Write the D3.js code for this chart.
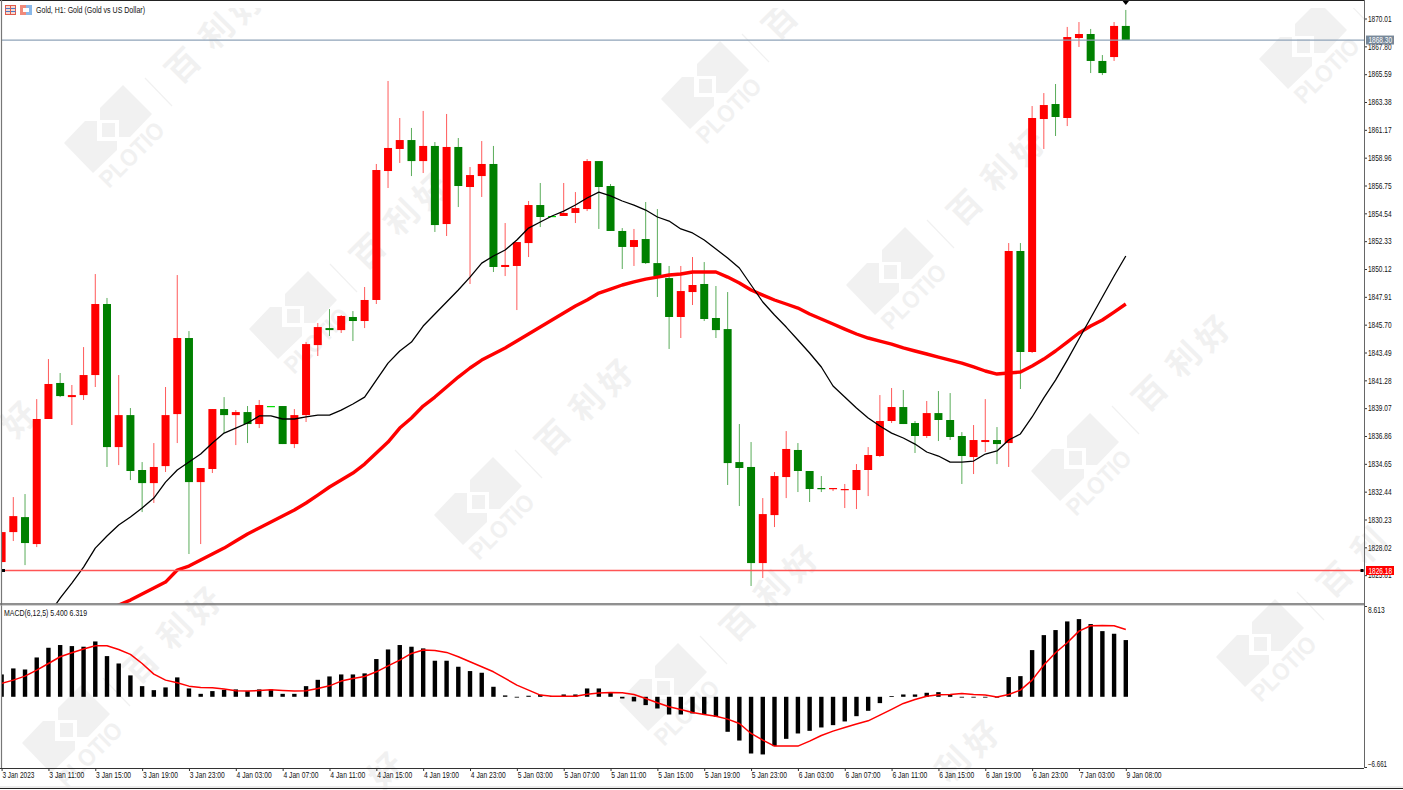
<!DOCTYPE html>
<html><head><meta charset="utf-8">
<script src="https://cdnjs.cloudflare.com/ajax/libs/d3/7.8.5/d3.min.js"></script>
<style>
html,body{margin:0;padding:0;background:#fff;overflow:hidden}
svg{display:block}
text{font-family:"Liberation Sans",sans-serif;font-size:8.4px;fill:#111}
.wm text{font-family:"Noto Sans CJK SC",sans-serif;fill:#f1f1f1;stroke:none}
</style></head><body>
<svg id="c" width="1403" height="790"></svg>
<script>
const opens=[1826.85,1829.23,1830.42,1828.28,1838.21,1841.07,1839.95,1840.11,1841.70,1847.34,1835.98,1838.52,1834.16,1833.12,1834.47,1838.60,1844.64,1833.20,1834.24,1839.00,1838.52,1838.76,1837.81,1839.24,1839.24,1836.22,1838.52,1844.08,1845.43,1845.27,1846.31,1845.99,1847.66,1857.90,1859.65,1860.36,1858.69,1859.89,1853.69,1859.81,1856.63,1857.50,1858.46,1850.28,1850.36,1852.18,1855.20,1854.33,1854.33,1854.57,1854.88,1858.69,1856.71,1853.14,1851.87,1852.50,1850.59,1849.40,1846.31,1848.29,1848.93,1846.23,1845.35,1834.79,1834.40,1826.77,1830.58,1833.60,1835.75,1834.08,1832.73,1832.65,1832.57,1832.57,1834.16,1835.27,1838.05,1839.16,1837.89,1836.86,1838.68,1838.13,1836.86,1835.19,1836.38,1836.54,1836.30,1851.55,1843.53,1862.03,1863.22,1862.11,1868.46,1868.78,1866.64,1866.95,1869.42];
const closes=[1829.23,1830.50,1828.36,1838.21,1840.99,1840.03,1840.11,1841.70,1847.34,1835.98,1838.52,1834.08,1833.12,1834.40,1838.52,1844.64,1833.20,1834.32,1839.00,1838.52,1838.76,1837.81,1839.32,1839.24,1836.22,1838.52,1844.16,1845.51,1845.27,1846.39,1845.99,1847.66,1857.98,1859.73,1860.36,1858.69,1859.89,1853.61,1859.81,1856.71,1857.58,1858.46,1850.28,1850.44,1852.26,1855.20,1854.25,1854.33,1854.57,1854.96,1858.69,1856.63,1853.14,1851.87,1852.42,1850.59,1849.56,1846.31,1848.37,1848.85,1846.15,1845.27,1834.71,1834.32,1826.77,1830.66,1833.68,1835.83,1834.08,1832.65,1832.65,1832.73,1832.65,1834.16,1835.35,1838.05,1839.16,1837.81,1836.86,1838.68,1838.13,1836.78,1835.27,1836.54,1836.54,1836.22,1851.55,1843.53,1862.11,1863.14,1862.19,1868.54,1868.78,1866.64,1865.68,1869.42,1868.30];
const highs=[1829.23,1832.01,1832.25,1839.79,1842.97,1841.86,1840.91,1843.92,1849.72,1847.82,1841.70,1839.08,1834.79,1836.30,1840.75,1849.64,1845.19,1834.32,1839.00,1839.95,1838.92,1839.24,1839.72,1839.24,1839.24,1839.00,1844.32,1845.83,1846.94,1846.47,1846.78,1848.69,1858.46,1865.05,1862.11,1861.32,1862.67,1860.20,1862.43,1860.52,1858.22,1860.28,1859.89,1853.77,1852.26,1855.52,1856.95,1854.33,1856.95,1856.23,1858.85,1858.69,1856.87,1853.37,1853.30,1855.44,1854.88,1850.36,1850.36,1851.07,1850.67,1848.77,1848.29,1837.81,1836.38,1831.93,1834.00,1837.25,1836.30,1834.08,1833.68,1832.73,1833.05,1834.63,1835.98,1840.11,1840.67,1840.51,1838.05,1839.64,1840.43,1840.27,1837.17,1837.73,1839.79,1837.57,1852.18,1852.18,1863.06,1864.09,1864.81,1869.34,1869.73,1869.18,1867.11,1869.73,1870.69];
const lows=[1826.85,1828.52,1826.61,1828.04,1838.21,1839.95,1837.73,1839.72,1840.75,1834.40,1834.55,1833.36,1830.82,1831.54,1834.00,1836.30,1827.49,1828.28,1833.92,1837.09,1836.14,1836.30,1837.49,1839.24,1836.22,1835.90,1837.97,1843.21,1844.80,1845.04,1844.40,1845.43,1847.34,1856.55,1858.54,1857.50,1857.74,1853.06,1852.74,1855.04,1848.93,1855.84,1849.88,1849.56,1846.86,1851.07,1853.45,1854.33,1854.33,1853.77,1854.72,1853.30,1853.14,1850.12,1850.36,1850.52,1847.90,1843.77,1844.64,1847.26,1845.99,1844.64,1832.97,1831.30,1824.95,1825.58,1829.63,1831.93,1832.41,1831.62,1832.41,1832.49,1831.14,1831.06,1832.09,1835.19,1837.89,1837.81,1835.51,1836.70,1836.46,1836.54,1833.05,1833.84,1835.59,1834.63,1834.40,1840.59,1843.45,1859.65,1860.68,1861.47,1867.75,1865.68,1865.52,1866.64,1868.30];
const fastStart=4;
const fastMA=[1822.64,1823.99,1825.18,1826.45,1827.96,1828.92,1829.79,1830.43,1831.14,1831.93,1833.20,1834.16,1834.79,1835.43,1836.30,1837.09,1837.49,1837.89,1838.45,1838.45,1838.21,1838.21,1838.37,1838.52,1838.52,1838.92,1839.40,1839.95,1841.30,1842.65,1843.61,1844.32,1845.59,1846.55,1847.50,1848.45,1849.48,1850.59,1851.15,1851.63,1852.42,1853.37,1853.85,1854.33,1854.72,1855.20,1855.76,1856.23,1855.92,1855.52,1855.20,1854.80,1854.25,1853.93,1853.30,1852.98,1852.42,1851.71,1850.99,1850.20,1848.85,1847.50,1846.47,1845.51,1844.48,1843.45,1842.34,1840.83,1839.95,1839.08,1838.29,1837.65,1837.09,1836.70,1836.22,1835.59,1835.27,1834.79,1834.79,1834.87,1835.43,1835.67,1836.54,1837.02,1838.37,1839.88,1841.30,1842.89,1844.56,1846.23,1847.90,1849.56,1851.15];
const slowStart=9;
const slowMA=[1822.88,1823.44,1823.83,1824.31,1824.79,1825.26,1826.22,1826.53,1827.01,1827.49,1827.96,1828.52,1829.08,1829.55,1830.03,1830.50,1830.98,1831.54,1832.17,1832.81,1833.36,1833.92,1834.63,1835.51,1836.38,1837.49,1838.29,1839.24,1839.95,1840.75,1841.54,1842.26,1842.89,1843.37,1843.85,1844.40,1844.96,1845.51,1846.07,1846.62,1847.18,1847.66,1848.21,1848.53,1848.85,1849.09,1849.32,1849.48,1849.64,1849.72,1849.88,1849.88,1849.88,1849.48,1849.01,1848.45,1848.05,1847.66,1847.34,1847.02,1846.55,1846.15,1845.75,1845.35,1844.96,1844.64,1844.40,1844.16,1843.85,1843.61,1843.37,1843.13,1842.89,1842.65,1842.34,1842.02,1841.78,1841.86,1841.94,1842.42,1842.97,1843.61,1844.32,1845.04,1845.59,1846.07,1846.70,1847.34];
const macdHist=[2.12,2.69,2.59,3.73,4.65,4.91,4.81,4.75,5.25,3.86,3.16,2.03,1.01,0.63,0.89,1.84,0.79,0.28,0.54,0.66,0.70,0.54,0.70,0.70,0.28,0.28,1.01,1.61,1.93,2.12,2.12,2.22,3.58,4.49,4.91,4.75,4.59,3.42,3.42,2.85,2.44,2.28,0.95,0.13,-0.05,0.10,0.19,0.06,0.22,0.22,0.79,0.79,0.38,-0.16,-0.44,-0.79,-1.11,-1.68,-1.68,-1.58,-1.68,-1.90,-3.32,-4.15,-5.38,-5.47,-4.68,-3.99,-3.48,-3.23,-2.91,-2.69,-2.34,-1.84,-1.33,-0.60,0.06,0.22,0.22,0.38,0.44,0.19,-0.06,-0.06,-0.06,-0.03,1.87,1.96,4.43,5.85,6.33,7.15,7.37,6.90,6.23,5.98,5.38];
const macdSignal=[1.27,1.58,1.96,2.53,3.16,3.80,4.18,4.53,4.84,4.84,4.49,4.02,3.16,2.15,1.58,1.33,1.01,0.89,0.85,0.73,0.57,0.54,0.60,0.66,0.60,0.54,0.57,0.79,1.04,1.49,1.74,1.93,2.37,2.94,3.48,4.11,4.43,4.40,4.21,3.80,3.32,2.85,2.37,1.74,1.11,0.63,0.16,0.06,0.06,0.06,0.25,0.35,0.41,0.38,0.22,-0.16,-0.57,-0.95,-1.20,-1.49,-1.68,-1.84,-2.12,-2.53,-3.48,-4.11,-4.68,-4.68,-4.68,-4.21,-3.67,-3.26,-2.91,-2.59,-2.28,-1.74,-1.20,-0.63,-0.25,0.06,0.19,0.22,0.32,0.22,0.16,-0.03,0.22,0.63,1.58,3.01,4.18,5.13,6.23,6.74,6.77,6.74,6.39];
const priceTicks=[1870.01,1867.80,1865.59,1863.38,1861.17,1858.96,1856.75,1854.54,1852.33,1850.12,1847.91,1845.70,1843.49,1841.28,1839.07,1836.86,1834.65,1832.44,1830.23,1828.02,1825.81];
const macdTicks=[8.613,-6.661];
const timeLabels=["3 Jan 2023","3 Jan 11:00","3 Jan 15:00","3 Jan 19:00","3 Jan 23:00","4 Jan 03:00","4 Jan 07:00","4 Jan 11:00","4 Jan 15:00","4 Jan 19:00","4 Jan 23:00","5 Jan 03:00","5 Jan 07:00","5 Jan 11:00","5 Jan 15:00","5 Jan 19:00","5 Jan 23:00","6 Jan 03:00","6 Jan 07:00","6 Jan 11:00","6 Jan 15:00","6 Jan 19:00","6 Jan 23:00","7 Jan 03:00","9 Jan 08:00"];
const bidPrice=1868.30, askPrice=1826.18;
const title="Gold, H1:  Gold (Gold vs US Dollar)";
const macdTitle="MACD(6,12,5) 5.400 6.319";
const wmChars=["百","利","好"];

const W=1403,H=790,axisX=1364,pane1B=603.5,pane2T=605,pane2B=768;
const svg=d3.select("#c");
const x=d3.scaleLinear().domain([0,96]).range([1.6,1125.8]);
const y=d3.scaleLinear().domain([1823.52,1871.48]).range([604,0]);
const m=d3.scaleLinear().domain([-6.661,8.613]).range([767,606]);

const defs=svg.append("defs");
defs.append("clipPath").attr("id","p1").append("rect").attr("x",2).attr("y",1).attr("width",axisX-2).attr("height",pane1B-1);
defs.append("clipPath").attr("id","p2").append("rect").attr("x",2).attr("y",pane2T).attr("width",axisX-2).attr("height",pane2B-pane2T);
defs.append("clipPath").attr("id","wmc").append("rect").attr("x",0).attr("y",8).attr("width",W).attr("height",H-8);

// watermark
const wmBases=[[122,138],[307,324],[492,510],[677,696],[719,94],[904,280],[1089,466],[1274,652],[1317,54],[80,738],[-105,552],[858,871],[262,903]];
const wm=svg.append("g").attr("class","wm").attr("clip-path","url(#wmc)");
const upper=[[1,-53],[30,-24],[8,-1],[-3,-1],[-3,-18],[-22,-18],[-22,-30]];
const lower=[[-37,-17],[-25,-17],[-25,3],[-5,3],[-5,12],[-29,35],[-58,5]];
const charOff=[[61,-72],[95,-106],[124,-132]];
wmBases.forEach(([bx,by])=>{
  const g=wm.append("g").attr("transform",`translate(${bx},${by})`);
  g.append("polygon").attr("points",upper.join(" ")).attr("fill","#f1f1f1");
  g.append("polygon").attr("points",lower.join(" ")).attr("fill","#f1f1f1");
  g.append("rect").attr("x",-20).attr("y",-15).attr("width",13).attr("height",14).attr("fill","#f1f1f1");
  g.append("line").attr("x1",23).attr("y1",-60).attr("x2",50).attr("y2",-32).attr("stroke","#f1f1f1").attr("stroke-width",1.2);
  if(by<790&&bx>0&&bx<1340){
    g.append("text").attr("transform","translate(-13,51) rotate(-45)").style("font-family","'Liberation Sans',sans-serif").style("font-weight","700").style("font-size","24px").attr("textLength",81).attr("lengthAdjust","spacingAndGlyphs").text("PLOTIO");
  }
  wmChars.forEach((ch,k)=>{
    const cx=bx+charOff[k][0],cy=by+charOff[k][1];
    if(cx<12||cx>W-12||cy<-5||cy>H-6) return;
    g.append("text").attr("transform",`translate(${charOff[k][0]},${charOff[k][1]}) rotate(-45)`).style("font-size","33px").style("font-weight","700").attr("text-anchor","middle").attr("dy","0.35em").text(ch);
  });
});

// pane 1
const p1=svg.append("g").attr("clip-path","url(#p1)");
const idx=d3.range(opens.length);
const colorOf=i=>closes[i]>opens[i]?"#ff0000":closes[i]<opens[i]?"#008000":"#00e000";
p1.selectAll("line.w").data(idx).join("line").attr("class","w")
  .attr("x1",i=>x(i)).attr("x2",i=>x(i)).attr("y1",i=>y(highs[i])).attr("y2",i=>y(lows[i]))
  .attr("stroke",colorOf).attr("stroke-width",1).attr("stroke-opacity",.65);
p1.selectAll("rect.b").data(idx).join("rect").attr("class","b")
  .attr("x",i=>x(i)-4).attr("width",8)
  .attr("y",i=>Math.min(y(opens[i]),y(closes[i])))
  .attr("height",i=>Math.max(1.2,Math.abs(y(opens[i])-y(closes[i]))))
  .attr("fill",colorOf);
const lineP=d3.line().x(d=>x(d.i)).y(d=>y(d.v));
p1.append("path").attr("d",lineP(slowMA.map((v,k)=>({i:k+slowStart,v})))).attr("fill","none").attr("stroke","#ff0000").attr("stroke-width",3.4).attr("stroke-linejoin","round");
p1.append("path").attr("d",lineP(fastMA.map((v,k)=>({i:k+fastStart,v})))).attr("fill","none").attr("stroke","#000").attr("stroke-width",1.3).attr("stroke-linejoin","round");
p1.append("line").attr("x1",2).attr("x2",axisX).attr("y1",y(bidPrice)).attr("y2",y(bidPrice)).attr("stroke","#8fa3b8").attr("stroke-width",1.3);
p1.append("line").attr("x1",2).attr("x2",axisX).attr("y1",y(askPrice)).attr("y2",y(askPrice)).attr("stroke","#ff5555").attr("stroke-width",1.3);
p1.append("path").attr("d",`M${x(96)-4},0L${x(96)+4},0L${x(96)},5Z`).attr("fill","#000");
p1.append("rect").attr("x",2).attr("y",y(askPrice)-1.5).attr("width",3).attr("height",3).attr("fill","#000");
p1.append("rect").attr("x",axisX-3.5).attr("y",y(askPrice)-1.5).attr("width",3).attr("height",3).attr("fill","#000");

// pane 2
const p2=svg.append("g").attr("clip-path","url(#p2)");
p2.selectAll("rect.h").data(macdHist).join("rect").attr("class","h")
  .attr("x",(d,i)=>x(i)-2.2).attr("width",4.4)
  .attr("y",d=>Math.min(m(d),m(0))).attr("height",d=>Math.max(0.8,Math.abs(m(d)-m(0))))
  .attr("fill","#000");
p2.append("path").attr("d",d3.line().x((d,i)=>x(i)).y(d=>m(d))(macdSignal)).attr("fill","none").attr("stroke","#ff0000").attr("stroke-width",1.5).attr("stroke-linejoin","round");

// axes
const narrow=(sel,len)=>sel.attr("textLength",len).attr("lengthAdjust","spacingAndGlyphs");
const ay=svg.append("g").attr("transform",`translate(${axisX},0)`).call(d3.axisRight(y).tickValues(priceTicks).tickFormat(d3.format(".2f")).tickSize(3).tickPadding(1));
const am=svg.append("g").attr("transform",`translate(${axisX},0)`).call(d3.axisRight(m).tickValues(macdTicks).tickFormat(d3.format(".3f")).tickSize(3).tickPadding(1));
am.selectAll("text").attr("transform",d=>`translate(0,${d>0?3.5:-3.5})`).attr("textLength",d=>d>0?16.7:19).attr("lengthAdjust","spacingAndGlyphs");
narrow(ay.selectAll("text"),23.5);
const tickIdx=timeLabels.map((_,k)=>k*4);
const ax=svg.append("g").attr("transform",`translate(0,${pane2B})`).call(d3.axisBottom(x).tickValues(tickIdx).tickFormat((d,k)=>timeLabels[k]).tickSize(3).tickPadding(1));
ax.selectAll("text").attr("text-anchor","start").attr("dx",0.3).attr("textLength",(d,k)=>k===0?32:35).attr("lengthAdjust","spacingAndGlyphs");
[ay,am,ax].forEach(a=>{a.select(".domain").remove();a.selectAll("line").attr("stroke","#333");a.selectAll("text").attr("fill","#111");a.attr("font-family",null).attr("font-size",null)});

// frame
const fr=svg.append("g");
const seg=(a,b,c,d,col,w)=>fr.append("line").attr("x1",a).attr("y1",b).attr("x2",c).attr("y2",d).attr("stroke",col).attr("stroke-width",w);
seg(0,0.5,axisX,0.5,"#222",1);
seg(1.5,0,1.5,pane2B,"#777",1.2);
seg(axisX+.5,0,axisX+.5,pane2B,"#666",1);
seg(0,604,axisX,604,"#6a6a6a",1.5);
seg(0,605.4,axisX,605.4,"#aaa",.6);
seg(0,pane2B+.5,axisX,pane2B+.5,"#333",1);
seg(0,787,W,787,"#e6e6e6",1.5);
seg(0,788.5,W,788.5,"#222",1);

// price labels
function tag(v,fill,txt){
  const yy=y(v);
  svg.append("rect").attr("x",1366).attr("y",yy-4.5).attr("width",28).attr("height",9).attr("fill",fill);
  narrow(svg.append("text").attr("x",1368.5).attr("y",yy+3).style("fill","#fff").text(txt),23.5);
}
tag(bidPrice,"#778899",d3.format(".2f")(bidPrice));
tag(askPrice,"#ff0000",d3.format(".2f")(askPrice));

// headers
const hdr=svg.append("g");
narrow(hdr.append("text").attr("x",36).attr("y",13).text(title),109);
narrow(hdr.append("text").attr("x",4).attr("y",616).text(macdTitle),83);
const ic=hdr.append("g").attr("transform","translate(5.5,5.5)");
ic.append("rect").attr("width",10).attr("height",9).attr("fill","#f7d8cf").attr("stroke","#e05a4a");
[3,6].forEach(v=>ic.append("line").attr("x1",0).attr("x2",10).attr("y1",v).attr("y2",v).attr("stroke","#4a78c8"));
ic.append("line").attr("x1",5).attr("x2",5).attr("y1",0).attr("y2",9).attr("stroke","#e05a4a");
const ic2=hdr.append("g").attr("transform","translate(20,5)");
ic2.append("rect").attr("width",6).attr("height",10).attr("fill","#f08a7a");
ic2.append("rect").attr("x",6).attr("width",6).attr("height",10).attr("fill","#8ab8e8");
ic2.append("rect").attr("x",3).attr("y",3).attr("width",6).attr("height",4).attr("fill","#fff");
</script>
</body></html>
